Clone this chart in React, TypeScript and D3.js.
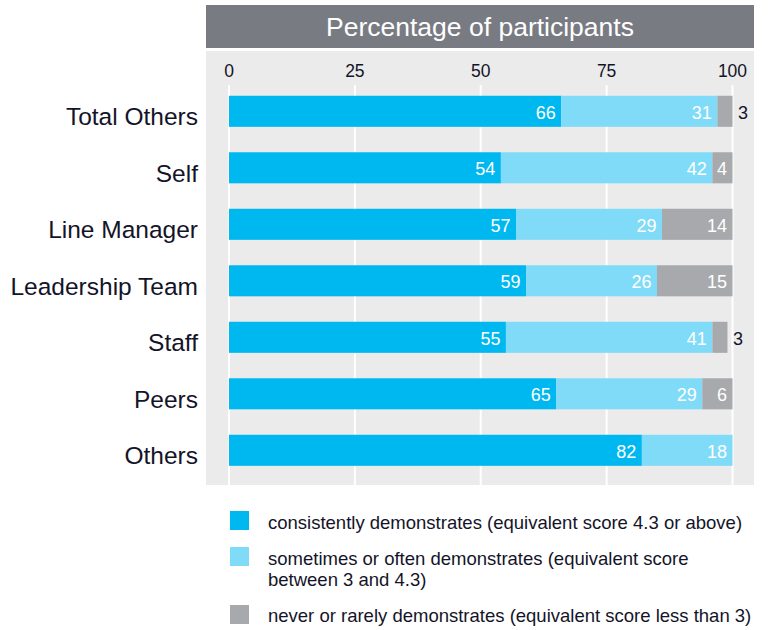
import React from "react";
import * as d3 from "d3";

const categories = ["Total Others", "Self", "Line Manager", "Leadership Team", "Staff", "Peers", "Others"];
const consistently = [66, 54, 57, 59, 55, 65, 82];
const sometimes = [31, 42, 29, 26, 41, 29, 18];
const never = [3, 4, 14, 15, 3, 6, 0];
const ticks = [0, 25, 50, 75, 100];
const seriesNames = [
  ["consistently demonstrates (equivalent score 4.3 or above)"],
  ["sometimes or often demonstrates (equivalent score", "between 3 and 4.3)"],
  ["never or rarely demonstrates (equivalent score less than 3)"],
];
const colors = ["#00b8f0", "#80dbf8", "#a7a9ac"];

const FONT = "'Liberation Sans', Arial, Helvetica, sans-serif";
const TEXT = "#141428";

export default function App() {
  const W = 768, H = 630;
  const x = d3.scaleLinear().domain([0, 100]).range([229, 732.5]);
  const y = d3.scaleBand<string>().domain(categories).range([83.05, 478.55]).paddingInner(0.45).paddingOuter(0.225);
  const bw = y.bandwidth();
  const series = [consistently, sometimes, never];
  const panel = { x0: 206, x1: 754, y0: 51, y1: 485 };

  return (
    <svg width={W} height={H} style={{ position: "absolute", left: 0, top: 0, fontFamily: FONT }}>
      <rect x={0} y={0} width={W} height={H} fill="#ffffff" />
      <rect x={panel.x0} y={5} width={panel.x1 - panel.x0} height={43} fill="#797b83" />
      <text x={(panel.x0 + panel.x1) / 2} y={36} textAnchor="middle" fill="#ffffff" fontSize={26.5}>
        Percentage of participants
      </text>
      <rect x={panel.x0} y={panel.y0} width={panel.x1 - panel.x0} height={panel.y1 - panel.y0} fill="#ebebeb" />
      {ticks.map((t) => (
        <g key={t}>
          <line x1={x(t)} x2={x(t)} y1={85} y2={panel.y1} stroke="#ffffff" strokeWidth={2} />
          <text x={x(t)} y={77} textAnchor="middle" fontSize={17.5} fill={TEXT}>
            {t}
          </text>
        </g>
      ))}
      {categories.map((c, i) => {
        const y0 = y(c)!;
        const cy = y0 + bw / 2;
        let acc = 0;
        return (
          <g key={c}>
            <text x={198} y={cy + 14} textAnchor="end" fontSize={24.5} fill={TEXT}>
              {c}
            </text>
            {series.map((s, k) => {
              const v = s[i];
              const start = acc;
              acc += v;
              if (v <= 0) return null;
              const xs = x(start), xe = x(start + v);
              const outside = v <= 3;
              return (
                <g key={k}>
                  <rect x={xs} y={y0} width={xe - xs} height={bw} fill={colors[k]} />
                  {outside ? (
                    <text x={xe + 5.5} y={cy + 7.5} textAnchor="start" fontSize={18} fill={TEXT}>
                      {v}
                    </text>
                  ) : (
                    <text x={xe - 5.5} y={cy + 7.5} textAnchor="end" fontSize={18} fill="#ffffff">
                      {v}
                    </text>
                  )}
                </g>
              );
            })}
          </g>
        );
      })}
      {seriesNames.map((lines, k) => {
        const tops = [511, 547, 605];
        const baselines = [529, 565, 622];
        return (
          <g key={k}>
            <rect x={230} y={tops[k]} width={19} height={19} fill={colors[k]} />
            {lines.map((ln, j) => (
              <text key={j} x={268} y={baselines[k] + j * 21} fontSize={18.5} fill={TEXT}>
                {ln}
              </text>
            ))}
          </g>
        );
      })}
    </svg>
  );
}
